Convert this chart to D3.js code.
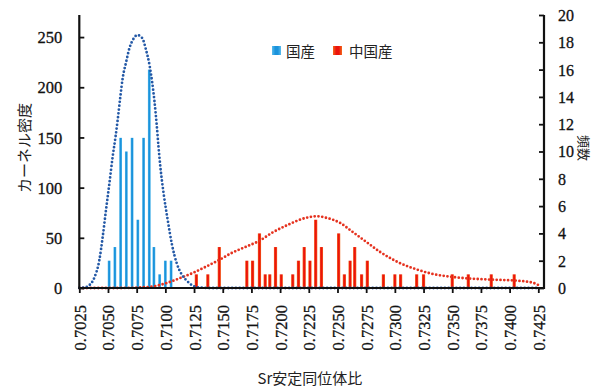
<!DOCTYPE html>
<html><head><meta charset="utf-8">
<script src="https://cdn.jsdelivr.net/npm/d3@7"></script>
<style>
html,body{margin:0;padding:0;background:#fff;}
svg{display:block;}
</style></head>
<body>
<svg id="c" width="595" height="387"></svg>
<script>
// ---- data ----
const xTicks = [0.7025,0.7050,0.7075,0.7100,0.7125,0.7150,0.7175,0.7200,0.7225,0.7250,0.7275,0.7300,0.7325,0.7350,0.7375,0.7400,0.7425];
const leftTicks = [0,50,100,150,200,250];
const rightTicks = [0,2,4,6,8,10,12,14,16,18,20];

const domesticX = [0.7051,0.7056,0.7061,0.7066,0.7071,0.7076,0.7081,0.7086,0.7090,0.7095,0.7100,0.7105];
const domesticN = [2,3,11,10,11,5,11,16,3,1,2,2];

const chinaX = [0.7127,0.7137,0.7147,0.7171,0.7176,0.7182,0.7187,0.7191,0.7196,0.7201,0.7211,0.7216,0.7221,0.7226,0.7231,0.7236,0.7251,0.7256,0.7261,0.7265,0.7271,0.7276,0.7290,0.7300,0.7305,0.7319,0.7325,0.7350,0.7364,0.7384,0.7404];
const chinaN = [1,1,3,2,2,4,1,1,3,1,1,2,3,2,5,3,4,1,2,3,1,2,1,1,1,1,1,1,1,1,1];

// kernel density curves
const domKdeX = [0.7025,0.7030,0.7034,0.7038,0.70425,0.70454,0.70483,0.70512,0.70541,0.70565,0.70585,0.70606,0.70628,0.70658,0.70687,0.70716,0.70756,0.70798,0.70832,0.70862,0.70885,0.70905,0.70925,0.70940,0.70957,0.70985,0.71020,0.71058,0.71101,0.71145,0.71189,0.71243,0.7130,0.7140,0.7200,0.7300,0.7425];
const domKdeY = [0,0.5,3,10,28,51,78,104,131,150,168,189,209,225,239,247,252,249,237,222,205,186,162,141,120,94,68,43,24,13,7,2,0.4,0,0,0,0];

const chnKdeX = [0.7025,0.7060,0.7085,0.7100,0.7112,0.7124,0.7135,0.7147,0.7158,0.7170,0.7182,0.7193,0.7206,0.7223,0.7232,0.7240,0.7252,0.7263,0.7275,0.7287,0.7298,0.7304,0.7319,0.7333,0.7348,0.7362,0.7377,0.7392,0.7406,0.7420,0.7425];
const chnKdeY = [0,0,1,4.5,9.5,15,21,28,35,41,47,55,62.5,70,71.5,70,65,56,46,36,28.5,25,18.5,14,11.3,9.7,8.7,8,7.3,5.3,3];

const legendLabels = ["国産","中国産"];

// ---- chart ----
const svg = d3.select("#c");
const x = d3.scaleLinear().domain([0.7025,0.7425]).range([79.3,538.3]);
const yL = d3.scaleLinear().domain([0,272]).range([288,15]);
const yR = d3.scaleLinear().domain([0,20]).range([288,15]);

const defs = svg.append("defs");
function grad(id, edge, mid){
  const g = defs.append("linearGradient").attr("id",id).attr("x1","0").attr("x2","1").attr("y1","0").attr("y2","0");
  g.append("stop").attr("offset","0%").attr("stop-color",edge);
  g.append("stop").attr("offset","35%").attr("stop-color",mid);
  g.append("stop").attr("offset","65%").attr("stop-color",mid);
  g.append("stop").attr("offset","100%").attr("stop-color",edge);
}
grad("gb","#5cbcec","#1a93dc");
grad("gr","#f36a1c","#ec130c");

// bars
const dom = domesticX.map((v,i)=>({x:v,n:domesticN[i]}));
const chn = chinaX.map((v,i)=>({x:v,n:chinaN[i]}));
svg.append("g").selectAll("rect").data(dom).join("rect")
  .attr("x",d=>x(d.x)-1.4).attr("width",2.8)
  .attr("y",d=>yR(d.n)).attr("height",d=>yR(0)-yR(d.n))
  .attr("fill","url(#gb)");
svg.append("g").selectAll("rect").data(chn).join("rect")
  .attr("x",d=>x(d.x)-1.6).attr("width",3.2)
  .attr("y",d=>yR(d.n)).attr("height",d=>yR(0)-yR(d.n))
  .attr("fill","url(#gr)");

// curves
const line = d3.line().x(d=>x(d[0])).y(d=>yL(d[1])).curve(d3.curveMonotoneX);
svg.append("path").datum(chnKdeX.map((v,i)=>[v,chnKdeY[i]]))
  .attr("d",line).attr("fill","none").attr("stroke","#e5321f")
  .attr("stroke-width",2.8).attr("stroke-linecap","round").attr("stroke-dasharray","0 3.8");
svg.append("path").datum(domKdeX.map((v,i)=>[v,domKdeY[i]]))
  .attr("d",line).attr("fill","none").attr("stroke","#2358a6")
  .attr("stroke-width",2.8).attr("stroke-linecap","round").attr("stroke-dasharray","0 3.8");

// axes
const ax = svg.append("g").attr("stroke","#111");
ax.append("line").attr("x1",79.3).attr("x2",544).attr("y1",288).attr("y2",288).attr("stroke-width",2.2);
ax.append("line").attr("x1",79.3).attr("x2",79.3).attr("y1",15).attr("y2",289).attr("stroke-width",2.2);
ax.append("line").attr("x1",544).attr("x2",544).attr("y1",15).attr("y2",289).attr("stroke-width",2.2);

const serifStack = '"Liberation Serif","Times New Roman","DejaVu Serif","Noto Serif",serif';
function styleNum(sel, size){
  sel.style("font-family",serifStack)
     .style("font-size",size+"px").attr("fill","#111").attr("stroke","#111").attr("stroke-width",0.3);
}

const xAxisG = svg.append("g").attr("transform","translate(0,288)")
  .call(d3.axisBottom(x).tickValues(xTicks).tickSize(5).tickSizeOuter(0).tickFormat(d3.format(".4f")));
xAxisG.attr("font-family",serifStack).attr("font-size",null);
xAxisG.select(".domain").remove();
xAxisG.selectAll(".tick line").attr("stroke","#111").attr("stroke-width",1.8).attr("y1",-1);
styleNum(xAxisG.selectAll(".tick text"),16.5);
xAxisG.selectAll(".tick text")
  .attr("text-anchor","end").attr("dominant-baseline","central")
  .attr("x",0).attr("y",0).attr("dy",null)
  .attr("transform","translate(0.5,17) rotate(-90)");

const yLG = svg.append("g").attr("transform","translate(79.3,0)")
  .call(d3.axisRight(yL).tickValues(leftTicks).tickSize(5).tickSizeOuter(0));
yLG.attr("font-family",serifStack).attr("font-size",null);
yLG.select(".domain").remove();
yLG.selectAll(".tick line").attr("stroke","#111").attr("stroke-width",1.8);
styleNum(yLG.selectAll(".tick text"),16.5);
yLG.selectAll(".tick text").attr("text-anchor","end").attr("x",-17).attr("dy","0.34em");

const yRG = svg.append("g").attr("transform","translate(544,0)")
  .call(d3.axisLeft(yR).tickValues(rightTicks).tickSize(5).tickSizeOuter(0));
yRG.attr("font-family",serifStack).attr("font-size",null);
yRG.select(".domain").remove();
yRG.selectAll(".tick line").attr("stroke","#111").attr("stroke-width",1.8);
styleNum(yRG.selectAll(".tick text"),16);
yRG.selectAll(".tick text").attr("text-anchor","start").attr("x",14).attr("dy","0.34em");

// titles
function cjk(sel,size){ sel.style("font-family",'"Noto Sans CJK JP",sans-serif').style("font-size",size+"px").attr("fill","#222"); }
cjk(svg.append("text").attr("transform","translate(23,148) rotate(-90)")
  .attr("text-anchor","middle").attr("dominant-baseline","central").text("カーネル密度"),15);
cjk(svg.append("text").attr("transform","translate(584,148) rotate(90)")
  .attr("text-anchor","middle").attr("dominant-baseline","central").text("頻数"),13);
cjk(svg.append("text").attr("x",310).attr("y",384).attr("text-anchor","middle").text("Sr安定同位体比"),15);

// legend
const lg = svg.append("g");
const legendPos = [{rx:272, tx:286, c:"url(#gb)"},{rx:333, tx:349, c:"url(#gr)"}];
legendLabels.forEach((t,i)=>{
  lg.append("rect").attr("x",legendPos[i].rx).attr("y",46).attr("width",9).attr("height",9).attr("fill",legendPos[i].c);
  cjk(lg.append("text").attr("x",legendPos[i].tx).attr("y",50).attr("dominant-baseline","central").text(t),14.5);
});
</script>
</body></html>
